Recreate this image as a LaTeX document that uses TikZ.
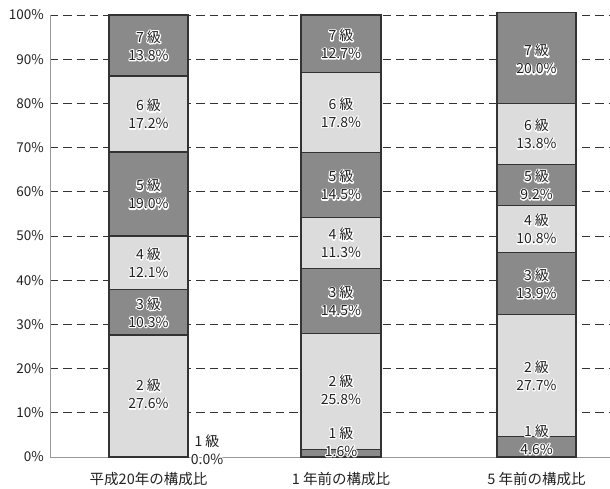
\documentclass[tikz,border=0pt]{standalone}
\usepackage{fontspec}
\setmainfont{Noto Sans CJK JP}
\definecolor{dk}{HTML}{8A8A8A}
\definecolor{lt}{HTML}{DCDCDC}
\definecolor{ink}{HTML}{222222}
\definecolor{gridc}{HTML}{333333}
\definecolor{axisc}{HTML}{999999}
\tikzset{
  x=1pt, y=4.42pt,
  lbl/.style={font=\fontsize{14}{18}\selectfont, align=center, inner sep=0pt, text=ink},
  ticklbl/.style={font=\fontsize{13.5}{15}\selectfont, inner sep=0pt, anchor=east, text=ink},
  catlbl/.style={font=\fontsize{14.5}{16}\selectfont, inner sep=0pt, text=ink},
  seg/.style={draw=gridc, line width=1.1pt},
  gridline/.style={gridc, line width=0.9pt, dash pattern=on 8.3pt off 5pt},
  axisline/.style={axisc, line width=1pt},
}
\newcommand\stk{\special{pdf:literal direct 2 Tr 2.4 w 1 j}}
\newcommand\unstk{\special{pdf:literal direct 0 Tr 1 w}}
\newcommand\halolabel[5]{%
  \node[lbl,text=white] at (#2,#3) {\stk #4\unstk\\\stk #5\unstk};
  \node[lbl] (#1) at (#2,#3) {#4\\#5};}
\newcommand\drawseg[5]{\draw[seg, fill=#5] (#1,#3) rectangle (#2,#4);}
\begin{document}
\begin{tikzpicture}
\useasboundingbox (0,-7.014) rectangle (610,103.394);
% grid
\foreach \p in {10,20,...,100}{
  \coordinate (g\p a) at (50,\p);
  \coordinate (g\p b) at (610,\p);
  \draw[gridline] (g\p a) -- (g\p b);
  \node[ticklbl] (t\p) at (44,\p) {\p\%};
}
\node[ticklbl] (t0) at (44,0) {0\%};
% axes
\coordinate (o) at (50,0);
\coordinate (top) at (50,100);
\coordinate (xr) at (610,0);
\draw[axisline] (top) -- (o) -- (xr);
% bar 1
\drawseg{109}{188}{0}{27.6}{lt}
\drawseg{109}{188}{27.6}{37.9}{dk}
\drawseg{109}{188}{37.9}{50}{lt}
\drawseg{109}{188}{50}{69}{dk}
\drawseg{109}{188}{69}{86.2}{lt}
\drawseg{109}{188}{86.2}{100}{dk}
% bar 2
\drawseg{301}{381}{0}{1.63}{dk}
\drawseg{301}{381}{1.63}{27.9}{lt}
\drawseg{301}{381}{27.9}{42.67}{dk}
\drawseg{301}{381}{42.67}{54.18}{lt}
\drawseg{301}{381}{54.18}{68.94}{dk}
\drawseg{301}{381}{68.94}{87.07}{lt}
\drawseg{301}{381}{87.07}{100}{dk}
% bar 3
\drawseg{497}{576}{0}{4.6}{dk}
\drawseg{497}{576}{4.6}{32.3}{lt}
\drawseg{497}{576}{32.3}{46.2}{dk}
\drawseg{497}{576}{46.2}{57}{lt}
\drawseg{497}{576}{57}{66.2}{dk}
\drawseg{497}{576}{66.2}{80}{lt}
\drawseg{497}{576}{80}{100.5}{dk}
% labels bar 1
\halolabel{a7}{148.5}{93.1}{7 級}{13.8\%}
\halolabel{a6}{148.5}{77.6}{6 級}{17.2\%}
\halolabel{a5}{148.5}{59.5}{5 級}{19.0\%}
\halolabel{a4}{148.5}{43.95}{4 級}{12.1\%}
\halolabel{a3}{148.5}{32.75}{3 級}{10.3\%}
\halolabel{a2}{148.5}{14.3}{2 級}{27.6\%}
\halolabel{a1}{207}{1.7}{1 級}{0.0\%}
% labels bar 2
\halolabel{b7}{341}{93.5}{7 級}{12.7\%}
\halolabel{b6}{341}{78.0}{6 級}{17.8\%}
\halolabel{b5}{341}{61.56}{5 級}{14.5\%}
\halolabel{b4}{341}{48.4}{4 級}{11.3\%}
\halolabel{b3}{341}{35.3}{3 級}{14.5\%}
\halolabel{b2}{341}{15.3}{2 級}{25.8\%}
\halolabel{b1}{341}{3.55}{1 級}{1.6\%}
% labels bar 3
\halolabel{c7}{536.5}{90}{7 級}{20.0\%}
\halolabel{c6}{536.5}{73.1}{6 級}{13.8\%}
\halolabel{c5}{536.5}{61.6}{5 級}{9.2\%}
\halolabel{c4}{536.5}{51.6}{4 級}{10.8\%}
\halolabel{c3}{536.5}{39.25}{3 級}{13.9\%}
\halolabel{c2}{536.5}{18.45}{2 級}{27.7\%}
\halolabel{c1}{536.5}{3.96}{1 級}{4.6\%}
% category labels
\node[catlbl] (k1) at (148.5,-4.98) {平成20年の構成比};
\node[catlbl] (k2) at (341,-4.98) {1 年前の構成比};
\node[catlbl] (k3) at (536.5,-4.98) {5 年前の構成比};
\end{tikzpicture}
\end{document}
